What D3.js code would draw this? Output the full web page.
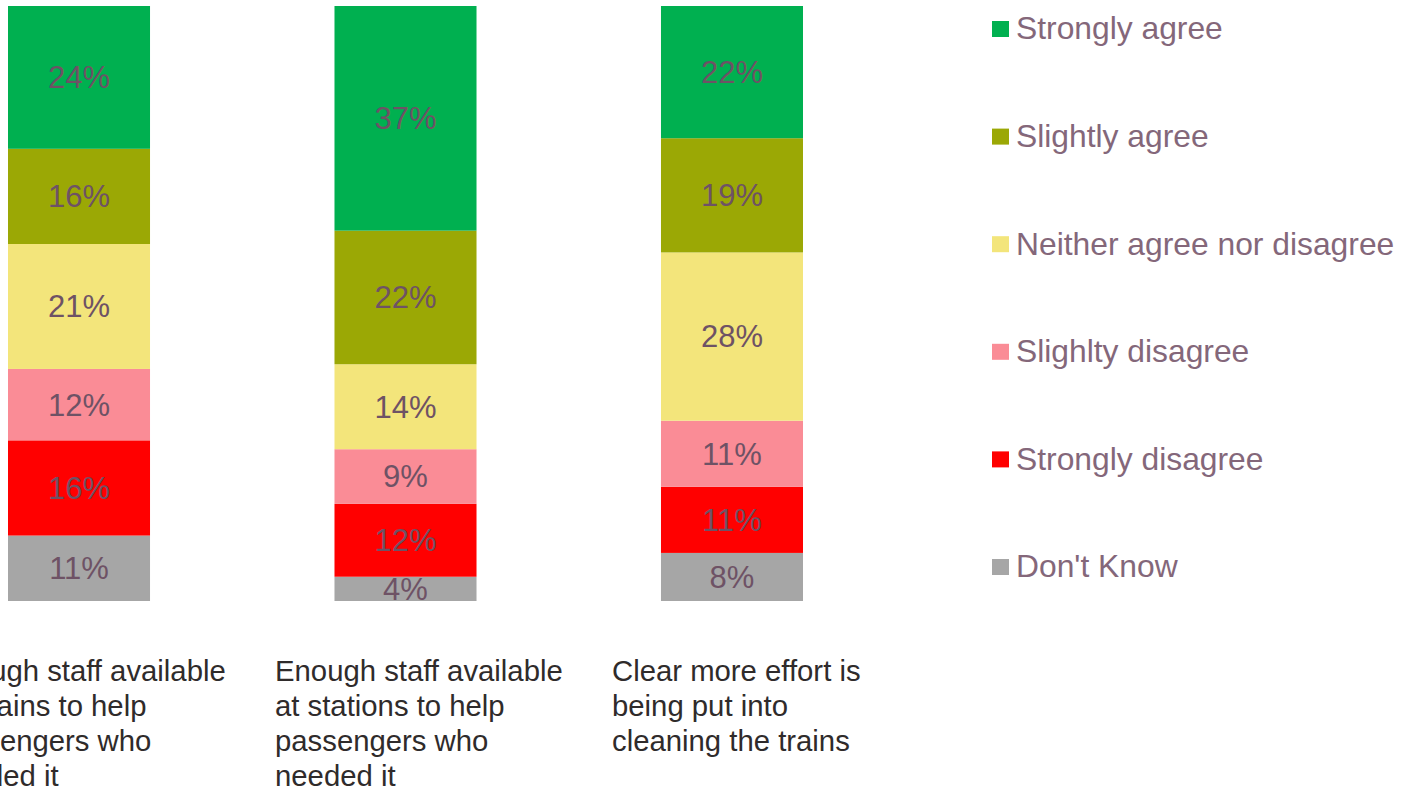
<!DOCTYPE html>
<html>
<head>
<meta charset="utf-8">
<script src="https://cdn.jsdelivr.net/npm/d3@7"></script>
<style>
  html, body { margin: 0; padding: 0; background: #ffffff; }
  svg { display: block; font-family: "Liberation Sans", Arial, sans-serif; }
</style>
</head>
<body>
<svg id="chart" width="1408" height="786"></svg>
<script>
// Survey statements (one stacked bar each) and their wrapped caption lines
const categories = ["trains", "stations", "cleaning"];
const categoryLines = [
  ["Enough staff available", "on trains to help", "passengers who", "needed it"],
  ["Enough staff available", "at stations to help", "passengers who", "needed it"],
  ["Clear more effort is", "being put into", "cleaning the trains"]
];

// Response options, top of the bar first
const responses = ["Strongly agree", "Slightly agree", "Neither agree nor disagree",
                   "Slighlty disagree", "Strongly disagree", "Don't Know"];

// Percentages per response, one value per statement
const stronglyAgree    = [24, 37, 22];
const slightlyAgree    = [16, 22, 19];
const neither          = [21, 14, 28];
const slightlyDisagree = [12, 9, 11];
const stronglyDisagree = [16, 12, 11];
const dontKnow         = [11, 4, 8];

const colours = ["#00B050", "#9BA805", "#F3E57B", "#FA8C96", "#FF0000", "#A6A6A6"];

const seriesValues = [stronglyAgree, slightlyAgree, neither, slightlyDisagree, stronglyDisagree, dontKnow];

// Rows for d3.stack: one per statement
const rows = categories.map((c, i) => {
  const r = { category: c };
  responses.forEach((k, j) => { r[k] = seriesValues[j][i]; });
  return r;
});

const svg = d3.select("#chart");

const x = d3.scaleBand()
  .domain(categories)
  .range([8, 803])
  .paddingInner(0.565)
  .paddingOuter(0);

const y = d3.scaleLinear().domain([0, 1]).range([601, 6]);

const colour = d3.scaleOrdinal().domain(responses).range(colours);

// Bottom of the stack is "Don't Know", normalised so each bar fills 100%
const stack = d3.stack()
  .keys(responses.slice().reverse())
  .offset(d3.stackOffsetExpand);
const layers = stack(rows);

const layerG = svg.append("g").selectAll("g")
  .data(layers)
  .join("g")
  .attr("fill", d => colour(d.key));

layerG.selectAll("rect")
  .data(d => d)
  .join("rect")
  .attr("x", d => x(d.data.category))
  .attr("width", x.bandwidth())
  .attr("y", d => y(d[1]))
  .attr("height", d => y(d[0]) - y(d[1]));

// Value labels in the middle of each segment
svg.append("g").selectAll("g")
  .data(layers)
  .join("g")
  .selectAll("text")
  .data(d => d.map(p => ({ p, key: d.key })))
  .join("text")
  .attr("x", d => x(d.p.data.category) + x.bandwidth() / 2)
  .attr("y", d => (y(d.p[0]) + y(d.p[1])) / 2)
  .attr("dy", "0.35em")
  .attr("text-anchor", "middle")
  .attr("font-size", 31)
  .attr("fill", "#6E5265")
  .text(d => d.p.data[d.key] + "%");

// Captions under the bars, left aligned
const captionX = d3.scalePoint().domain(categories).range([-62, 612]);
const captions = svg.append("g").selectAll("text")
  .data(categories)
  .join("text")
  .attr("font-size", 29.3)
  .attr("fill", "#2F2B2B");
captions.selectAll("tspan")
  .data((c, i) => categoryLines[i].map(t => ({ t, c })))
  .join("tspan")
  .attr("x", d => captionX(d.c))
  .attr("y", (d, j) => 681 + j * 35)
  .text(d => d.t);

// Legend
const legendY = d3.scalePoint().domain(responses).range([28, 566]);
const legend = svg.append("g").selectAll("g")
  .data(responses)
  .join("g")
  .attr("transform", d => `translate(992, ${legendY(d)})`);
legend.append("rect")
  .attr("x", 0)
  .attr("y", -7)
  .attr("width", 17)
  .attr("height", 16)
  .attr("fill", d => colour(d));
legend.append("text")
  .attr("x", 24)
  .attr("y", 0)
  .attr("dy", "0.36em")
  .attr("font-size", 31.8)
  .attr("fill", "#84677A")
  .text(d => d);
</script>
</body>
</html>
